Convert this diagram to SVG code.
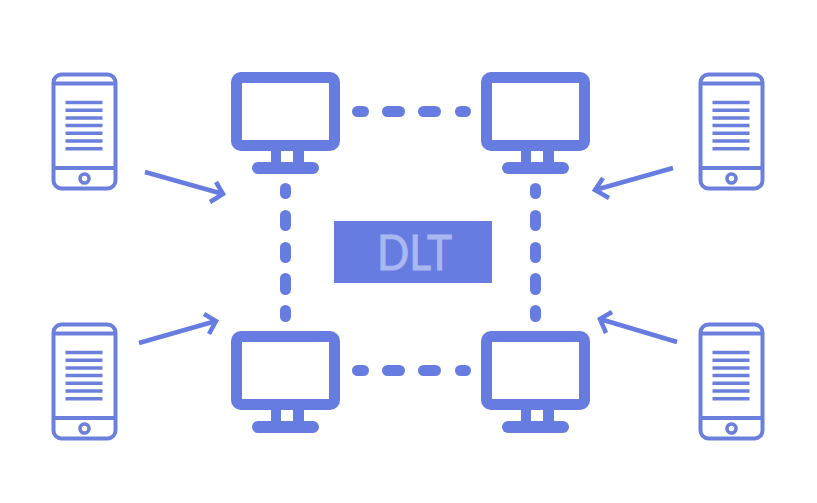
<svg xmlns="http://www.w3.org/2000/svg" width="817" height="503" viewBox="0 0 817 503">
<style>
.solid{fill:#667ce0}
.screen{fill:#fff}
.ph{fill:none;stroke:#6b80dc;stroke-width:4}
.tl{fill:none;stroke:#6b80dc;stroke-width:3.600}
.arrow{fill:none;stroke:#667ce0;stroke-width:4.500}
.dash{fill:#667ce0}
.label{font-family:"Lato","Liberation Sans",sans-serif;font-size:48px;fill:#aab8f0;stroke:#aab8f0;stroke-width:1}
</style>
<defs>
<g id="monitor">
<rect class="solid" x="231" y="72" width="109" height="79" rx="10"/>
<rect class="screen" x="242" y="83" width="87" height="57"/>
<rect class="solid" x="271" y="150" width="10" height="14"/>
<rect class="solid" x="293" y="150" width="11" height="14"/>
<rect class="solid" x="252" y="162" width="67" height="12" rx="6"/>
</g>
<g id="phone">
<rect class="ph" x="53.500" y="74.500" width="62" height="114" rx="8"/>
<path class="ph" d="M53.500 83.500H115.500M53.500 168H115.500"/>
<path class="tl" d="M65.500 102.500H102.500M65.500 110.200H102.500M65.500 118H102.500M65.500 125.500H102.500M65.500 133.300H102.500M65.500 141H102.500M65.500 148.800H102.500"/>
<circle class="tl" cx="84.500" cy="178.500" r="4.500"/>
</g>
</defs>
<rect width="817" height="503" fill="#fff"/>
<g id="connectors">
<g id="dashes-top">
<rect class="dash" x="352" y="106" width="17" height="11" rx="5.500"/>
<rect class="dash" x="382" y="106" width="23" height="11" rx="5.500"/>
<rect class="dash" x="418" y="106" width="23" height="11" rx="5.500"/>
<rect class="dash" x="455" y="106" width="16" height="11" rx="5.500"/>
</g>
<g id="dashes-bottom">
<rect class="dash" x="352" y="365" width="17" height="11" rx="5.500"/>
<rect class="dash" x="382" y="365" width="23" height="11" rx="5.500"/>
<rect class="dash" x="418" y="365" width="23" height="11" rx="5.500"/>
<rect class="dash" x="455" y="365" width="16" height="11" rx="5.500"/>
</g>
<g id="dashes-left">
<rect class="dash" x="280" y="183" width="11" height="16" rx="5.500"/>
<rect class="dash" x="280" y="210" width="11" height="21" rx="5.500"/>
<rect class="dash" x="280" y="242" width="11" height="21" rx="5.500"/>
<rect class="dash" x="280" y="273" width="11" height="22" rx="5.500"/>
<rect class="dash" x="280" y="305" width="11" height="17" rx="5.500"/>
</g>
<g id="dashes-right">
<rect class="dash" x="530" y="183" width="11" height="16" rx="5.500"/>
<rect class="dash" x="530" y="210" width="11" height="21" rx="5.500"/>
<rect class="dash" x="530" y="242" width="11" height="21" rx="5.500"/>
<rect class="dash" x="530" y="273" width="11" height="22" rx="5.500"/>
<rect class="dash" x="530" y="305" width="11" height="17" rx="5.500"/>
</g>
<path class="arrow" d="M145 172L223 194M216 182L223 194L210 202"/>
<path class="arrow" d="M673 168L595 190M603 178L595 190L609 198"/>
<path class="arrow" d="M139 343L216 321M204 314L216 321L209 334"/>
<path class="arrow" d="M677 342L600 319M612 312L600 319L606 333"/>
</g>
<g id="monitor-tl"><use href="#monitor"/></g>
<g id="monitor-tr"><use href="#monitor" x="250"/></g>
<g id="monitor-bl"><use href="#monitor" y="259"/></g>
<g id="monitor-br"><use href="#monitor" x="250" y="259"/></g>
<g id="phone-tl"><use href="#phone"/></g>
<g id="phone-tr"><use href="#phone" x="647"/></g>
<g id="phone-bl"><use href="#phone" y="250"/></g>
<g id="phone-br"><use href="#phone" x="647" y="250"/></g>
<g id="dlt">
<rect class="solid" x="334" y="221" width="158" height="62"/>
<text class="label" x="414.500" y="270" text-anchor="middle" textLength="75" lengthAdjust="spacingAndGlyphs">DLT</text>
</g>
</svg>
